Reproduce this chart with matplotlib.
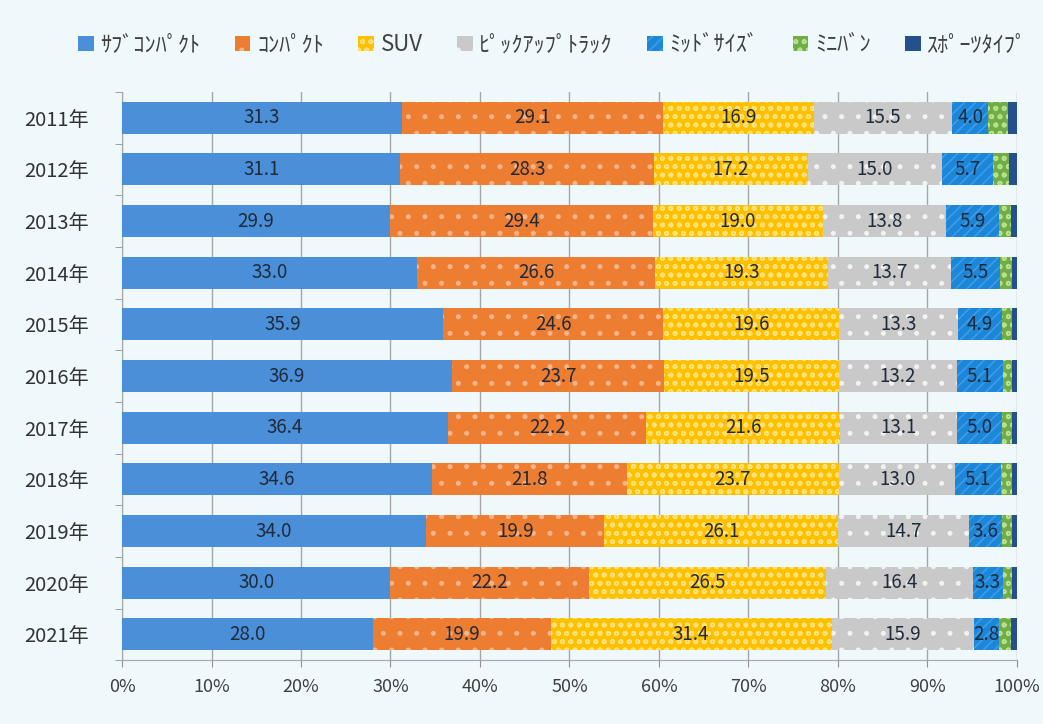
import numpy as np
import matplotlib.pyplot as plt

plt.rcParams['font.family'] = ['Noto Sans CJK JP', 'DejaVu Sans']
plt.rcParams['hatch.linewidth'] = 1.2

years = ['2011年', '2012年', '2013年', '2014年', '2015年', '2016年',
         '2017年', '2018年', '2019年', '2020年', '2021年']
names = ['ｻﾌﾞｺﾝﾊﾟｸﾄ', 'ｺﾝﾊﾟｸﾄ', 'SUV', 'ﾋﾟｯｸｱｯﾌﾟﾄﾗｯｸ', 'ﾐｯﾄﾞｻｲｽﾞ', 'ﾐﾆﾊﾞﾝ', 'ｽﾎﾟｰﾂﾀｲﾌﾟ']

subcompact = [31.3, 31.1, 29.9, 33.0, 35.9, 36.9, 36.4, 34.6, 34.0, 30.0, 28.0]
compact = [29.1, 28.3, 29.4, 26.6, 24.6, 23.7, 22.2, 21.8, 19.9, 22.2, 19.9]
suv = [16.9, 17.2, 19.0, 19.3, 19.6, 19.5, 21.6, 23.7, 26.1, 26.5, 31.4]
pickup = [15.5, 15.0, 13.8, 13.7, 13.3, 13.2, 13.1, 13.0, 14.7, 16.4, 15.9]
midsize = [4.0, 5.7, 5.9, 5.5, 4.9, 5.1, 5.0, 5.1, 3.6, 3.3, 2.8]
minivan = [2.2, 1.8, 1.3, 1.3, 1.1, 1.0, 1.1, 1.2, 1.1, 1.0, 1.3]
sports = [1.0, 0.9, 0.7, 0.6, 0.6, 0.6, 0.6, 0.6, 0.6, 0.6, 0.7]

series = [subcompact, compact, suv, pickup, midsize, minivan, sports]
colors = ['#4A8FD8', '#ED7D31', '#FFC000', '#C9C9C9', '#1C86D9', '#70AD47', '#25508C']
hatches = [None, '.', 'oo', '.', '///', 'oo', None]
hatch_cols = [None, '#F7B48A', '#FFE37A', '#F2F2F2', '#3E9CE8', '#B9E08A', None]
show_label = [True, True, True, True, True, False, False]

bg = '#EFF9FC'
fig = plt.figure(figsize=(10.43, 7.24), dpi=100, facecolor=bg)
ax = fig.add_axes([0.117, 0.088, 0.858, 0.785], facecolor=bg)

y = np.arange(len(years))
left = np.zeros(len(years))
for vals, c, h, hc, name, lab in zip(series, colors, hatches, hatch_cols, names, show_label):
    vals = np.array(vals)
    ax.barh(y, vals, left=left, height=0.62, color=c, label=name,
            hatch=h, edgecolor=hc if hc else c, linewidth=0, zorder=3)
    if lab:
        for yi, l, v in zip(y, left, vals):
            ax.text(l + v / 2, yi, f'{v:.1f}', ha='center', va='center',
                    fontsize=13.5, color='#1F2A3A', zorder=4)
    left += vals

ax.set_xlim(0, 100)
ax.set_ylim(len(years) - 0.5, -0.5)
ax.set_xticks(np.arange(0, 101, 10))
ax.set_xticklabels([f'{t}%' for t in range(0, 101, 10)], fontsize=13, color='#404040')
ax.set_yticks(y)
ax.set_yticklabels(years, fontsize=14.5, color='#333333')
ax.set_yticks(np.arange(-0.5, len(years), 1), minor=True)
ax.tick_params(axis='y', which='major', length=0, pad=24)
ax.tick_params(axis='y', which='minor', length=5, color='#909090')
ax.tick_params(axis='x', length=5, color='#909090', pad=8)
ax.grid(axis='x', color='#A6A6A6', linewidth=1, zorder=0)
for s in ['top', 'right']:
    ax.spines[s].set_visible(False)
for s in ['left', 'bottom']:
    ax.spines[s].set_color('#A6A6A6')

fig.legend(loc='center', bbox_to_anchor=(0.53, 0.938), ncol=7, frameon=False,
           fontsize=16, handlelength=0.7, handleheight=0.7, handletextpad=0.3,
           columnspacing=1.55, labelcolor='#404040')

fig.savefig('out.png', dpi=100, facecolor=bg)
